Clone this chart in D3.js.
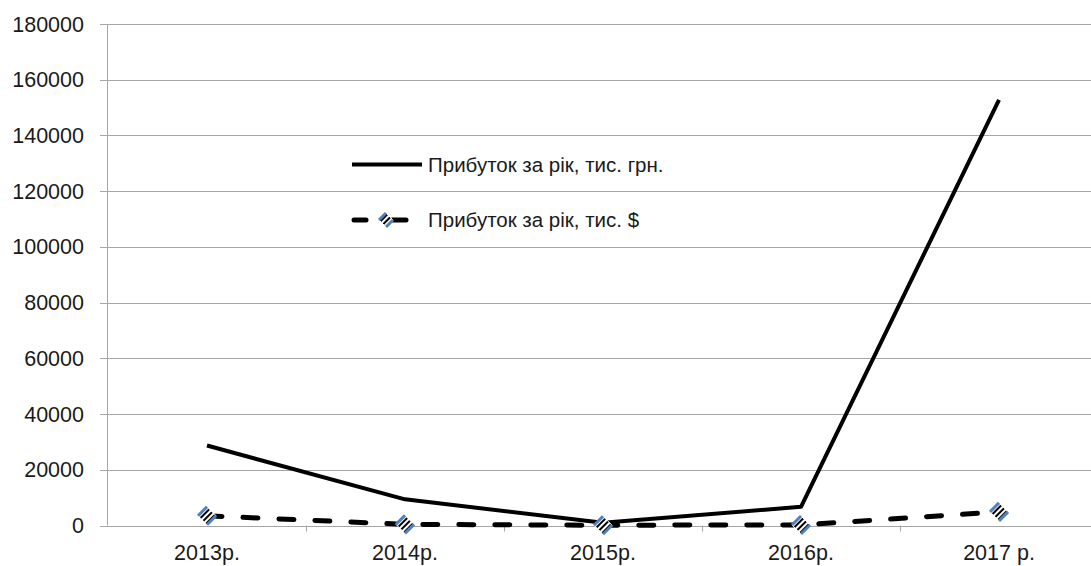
<!DOCTYPE html>
<html><head><meta charset="utf-8">
<script src="https://cdn.jsdelivr.net/npm/d3@7"></script>
<style>
html,body{margin:0;padding:0;background:#fff;}
svg{display:block;font-family:"Liberation Sans",Arial,sans-serif;}
</style></head>
<body>
<svg id="chart" width="1091" height="566"></svg>
<script>
const categories = ["2013р.", "2014р.", "2015р.", "2016р.", "2017 р."];
const profitUAH = [28700, 9400, 1000, 6700, 152800];
const profitUSD = [3500, 400, 100, 200, 4900];
const seriesNames = ["Прибуток за рік, тис. грн.", "Прибуток за рік, тис. $"];
const yTicks = [0, 20000, 40000, 60000, 80000, 100000, 120000, 140000, 160000, 180000];

const svg = d3.select("#chart");
const m = {left:108, right:-7, top:24, bottom:40};
const W = 1091, H = 566;
const x = d3.scaleBand().domain(categories).range([m.left, W - m.right]);
const y = d3.scaleLinear().domain([0, 180000]).range([525.5, m.top]);
const fs = 21.5;

const defs = svg.append("defs");
const pat = defs.append("pattern").attr("id","stripes").attr("patternUnits","userSpaceOnUse")
  .attr("width",4).attr("height",4).attr("patternTransform","rotate(-45)");
pat.append("rect").attr("width",4).attr("height",4).attr("fill","#fff");
pat.append("rect").attr("width",4).attr("height",2).attr("fill","#000");

// gridlines
svg.append("g").selectAll("line").data(yTicks).join("line")
  .attr("x1", 100).attr("x2", W).attr("y1", d => Math.round(y(d))+0.5).attr("y2", d => Math.round(y(d))+0.5)
  .attr("stroke", "#a6a6a6").attr("stroke-width", 1);

// y axis line
svg.append("line").attr("x1", m.left-0.5).attr("x2", m.left-0.5).attr("y1", y(180000)).attr("y2", y(0))
  .attr("stroke", "#a6a6a6");

// y labels
svg.append("g").selectAll("text").data(yTicks).join("text")
  .attr("x", 84).attr("y", d => y(d)).attr("dy", "0.35em").attr("text-anchor", "end")
  .attr("font-size", fs).attr("fill", "#1a1a1a").text(d => d);

// x category ticks
const bounds = categories.map(c => x(c)).slice(1);
svg.append("g").selectAll("line").data(bounds).join("line")
  .attr("x1", d => Math.round(d)+0.5).attr("x2", d => Math.round(d)+0.5)
  .attr("y1", y(0)).attr("y2", y(0)+6).attr("stroke", "#a6a6a6");

// x labels
svg.append("g").selectAll("text").data(categories).join("text")
  .attr("x", d => x(d) + x.bandwidth()/2).attr("y", 560).attr("text-anchor", "middle")
  .attr("font-size", fs).attr("fill", "#1a1a1a").text(d => d);

const cx = (d,i) => x(categories[i]) + x.bandwidth()/2;
const line = d3.line().x((d,i) => cx(d,i)).y(d => y(d));

svg.append("path").datum(profitUSD).attr("d", line).attr("fill","none")
  .attr("stroke","#000").attr("stroke-width",5).attr("stroke-linecap","round")
  .attr("stroke-dasharray","15,21");

svg.append("path").datum(profitUAH).attr("d", line).attr("fill","none")
  .attr("stroke","#000").attr("stroke-width",4).attr("stroke-linejoin","round");

function marker(g, s) {
  g.append("path").attr("d", `M0,${-s}L${s},0L0,${s}L${-s},0Z`).attr("fill","url(#stripes)")
    .attr("stroke","#fff").attr("stroke-width",1);
  g.append("path").attr("d", `M${-s},0L0,${-s}`).attr("stroke","#4f81bd").attr("stroke-width",3);
  g.append("path").attr("d", `M0,${s}L${s},0`).attr("stroke","#4f81bd").attr("stroke-width",3);
}
svg.append("g").selectAll("g").data(profitUSD).join("g")
  .attr("transform", (d,i) => `translate(${cx(d,i)},${y(d)})`)
  .each(function(){ marker(d3.select(this), 9); });

// legend
const lg = svg.append("g");
lg.append("line").attr("x1",352).attr("x2",422).attr("y1",164.5).attr("y2",164.5)
  .attr("stroke","#000").attr("stroke-width",4);
lg.append("text").attr("x",428).attr("y",164.5).attr("dy","0.35em").attr("font-size",20.5)
  .attr("fill","#1a1a1a").text(seriesNames[0]);
lg.append("line").attr("x1",354).attr("x2",366).attr("y1",220).attr("y2",220)
  .attr("stroke","#000").attr("stroke-width",5).attr("stroke-linecap","round");
lg.append("line").attr("x1",392).attr("x2",406).attr("y1",220).attr("y2",220)
  .attr("stroke","#000").attr("stroke-width",5).attr("stroke-linecap","round");
const lm = lg.append("g").attr("transform","translate(386,220)");
marker(lm, 7);
lg.append("text").attr("x",428).attr("y",220).attr("dy","0.35em").attr("font-size",20.5)
  .attr("fill","#1a1a1a").text(seriesNames[1]);
</script>
</body></html>
